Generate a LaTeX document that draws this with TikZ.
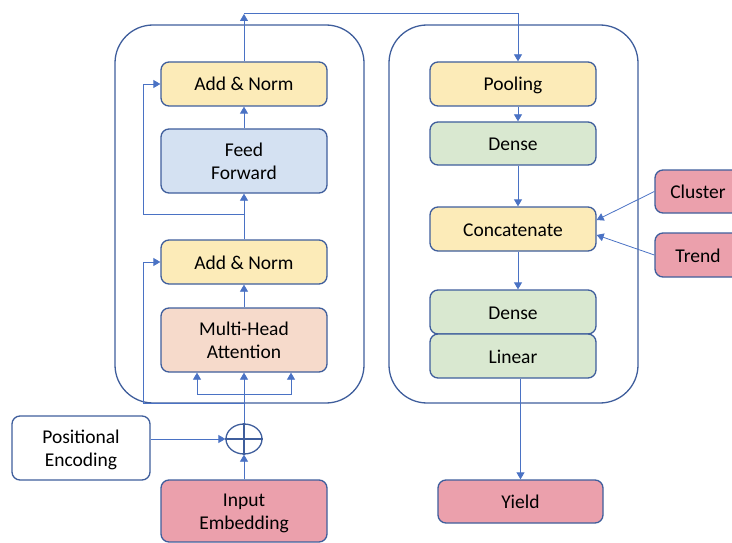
\documentclass[tikz,border=0pt]{standalone}
\usepackage{fontspec}
\setmainfont{Carlito}
\usepackage{xcolor}
\usetikzlibrary{arrows.meta,positioning,calc,shapes.geometric}

\definecolor{edge}{HTML}{3F5E9C}
\definecolor{wire}{HTML}{4A72C4}
\definecolor{normfill}{HTML}{FCEBB8}
\definecolor{fffill}{HTML}{D4E1F2}
\definecolor{attfill}{HTML}{F6DACB}
\definecolor{densefill}{HTML}{D9E8D0}
\definecolor{iofill}{HTML}{EBA0AC}

\begin{document}
\begin{tikzpicture}[x=1pt,y=-1pt,
  block/.style={draw=edge, line width=1.3pt, rounded corners=8pt, minimum width=166pt,
    minimum height=44pt, align=center, inner sep=0pt, text=black,
    text height=18pt, text depth=4pt, font=\fontsize{19.5}{23}\selectfont},
  tall/.style={minimum height=64pt, text height=41pt},
  frame/.style={draw=edge, line width=1.3pt, rounded corners=38pt},
  arr/.style={draw=wire, line width=0.8pt, -{Triangle[length=7pt,width=8pt]}},
  wire/.style={draw=wire, line width=0.8pt}]
\useasboundingbox (0,0) rectangle (732,543);
\clip (0,0) rectangle (732,543);

% encoder and head frames
\draw[frame] (115,25) rectangle (364,403);
\draw[frame] (389,25) rectangle (638,403);

% encoder
\node[block, fill=normfill] (an2) at (244,84) {Add \& Norm};
\node[block, tall, fill=fffill] (ff) at (244,161) {Feed\\Forward};
\node[block, fill=normfill] (an1) at (244,262) {Add \& Norm};
\node[block, tall, fill=attfill] (mha) at (244,340) {Multi-Head\\Attention};
\node[block, tall, fill=white, minimum width=138pt] (pe) at (81,448) {Positional\\Encoding};
\node[block, tall, fill=iofill, minimum height=62pt] (emb) at (244,511) {Input\\Embedding};
\node[draw=edge, line width=1.3pt, ellipse, minimum width=36pt, minimum height=30pt, inner sep=0pt] (plus) at (244,439) {};
\draw[draw=edge, line width=1.3pt] (plus.north) -- (plus.south) (plus.west) -- (plus.east);

% head
\node[block, fill=normfill] (pool) at (513,84) {Pooling};
\node[block, fill=densefill, minimum height=43pt] (dense1) at (513,143.5) {Dense};
\node[block, fill=normfill] (concat) at (513,229) {Concatenate};
\node[block, fill=densefill] (dense2) at (513,312) {Dense};
\node[block, fill=densefill] (linear) at (513,356) {Linear};
\node[block, fill=iofill, minimum width=165pt, minimum height=43pt] (yield) at (520.5,501.5) {Yield};
\node[block, fill=iofill, minimum width=86pt, minimum height=43pt] (cluster) at (698,191.5) {Cluster};
\node[block, fill=iofill, minimum width=86pt] (trend) at (698,255) {Trend};

\coordinate (split) at (244,394);
\coordinate (res1) at (244,403);
\coordinate (res2) at (244,214);
\coordinate (top) at (244,14);

% encoder wiring
\draw[arr] (emb) -- (plus);
\draw[arr] (pe.east |- plus.west) -- (plus.west);
\draw[arr] (plus) -- (mha);
\foreach \dx in {-47,47}
  \draw[arr] (split) -| ([xshift=\dx]mha.south);
\draw[arr] (res1) -- ++(-101,0) |- (an1.west);
\draw[arr] (mha) -- (an1);
\draw[arr] (an1) -- (ff);
\draw[arr] (res2) -- ++(-101,0) |- (an2.west);
\draw[arr] (ff) -- (an2);
\draw[arr] (an2) -- (top);

% head wiring
\draw[arr] ([yshift=1]top) -| ([xshift=5]pool.north);
\draw[arr] ([xshift=5]pool.south) -- ([xshift=5]dense1.north);
\draw[arr] ([xshift=5]dense1.south) -- ([xshift=5]concat.north);
\draw[arr] ([xshift=5]concat.south) -- ([xshift=5]dense2.north);
\draw[arr] (linear.south -| yield.north) -- (yield.north);
\draw[arr] (cluster.west) -- ([yshift=9]concat.east);
\draw[arr] (trend.west) -- ([yshift=-6]concat.east);
\end{tikzpicture}
\end{document}
